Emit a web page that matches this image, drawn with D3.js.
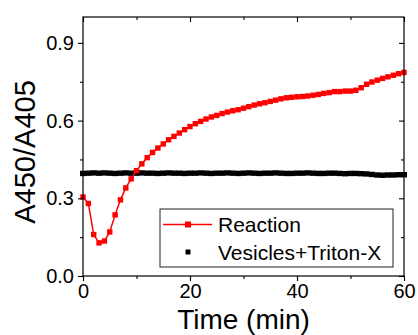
<!DOCTYPE html>
<html>
<head>
<meta charset="utf-8">
<script src="https://cdn.jsdelivr.net/npm/d3@7"></script>
<style>
  body { margin: 0; background: #fff; }
  svg { display: block; font-family: "Liberation Sans", Arial, sans-serif; }
</style>
</head>
<body>
<div id="chart"></div>
<script>
// Time in minutes (1 min steps)
const times = d3.range(0, 61);

// A450/A405 for the reaction
const reaction = [
  0.305, 0.28, 0.16, 0.128, 0.135, 0.17, 0.236, 0.294, 0.34, 0.375,
  0.407, 0.433, 0.457, 0.477, 0.494, 0.51, 0.526, 0.539, 0.552, 0.565,
  0.577, 0.588, 0.597, 0.606, 0.614, 0.62, 0.627, 0.633, 0.638, 0.642,
  0.648, 0.654, 0.66, 0.665, 0.669, 0.674, 0.679, 0.684, 0.688, 0.69,
  0.692, 0.693, 0.695, 0.698, 0.701, 0.705, 0.708, 0.712, 0.712, 0.714,
  0.714, 0.717, 0.727, 0.74, 0.749, 0.756, 0.763, 0.769, 0.775, 0.781,
  0.786
];

// A450/A405 for the vesicles + Triton-X control
const control = [
  0.396, 0.397, 0.398, 0.397, 0.398, 0.397, 0.396, 0.397, 0.398, 0.397,
  0.397, 0.398, 0.397, 0.397, 0.396, 0.397, 0.398, 0.397, 0.397, 0.396,
  0.397, 0.397, 0.398, 0.397, 0.396, 0.397, 0.397, 0.398, 0.397, 0.396,
  0.397, 0.398, 0.397, 0.396, 0.397, 0.397, 0.398, 0.397, 0.396, 0.396,
  0.397, 0.397, 0.398, 0.397, 0.396, 0.396, 0.397, 0.397, 0.396, 0.395,
  0.396, 0.396, 0.395, 0.394, 0.392, 0.390, 0.389, 0.390, 0.390, 0.391,
  0.391
];

const seriesNames = ["Reaction", "Vesicles+Triton-X"];
const xTicks = [0, 20, 40, 60];
const xMinor = [10, 30, 50];
const yTicks = [0, 0.3, 0.6, 0.9];
const yMinor = [0.15, 0.45, 0.75];

const chart = (() => {
  const width = 418, height = 335;
  const margin = { top: 17, right: 14, bottom: 59, left: 83 };
  const iw = width - margin.left - margin.right;
  const ih = height - margin.top - margin.bottom;

  const x = d3.scaleLinear().domain([0, 60]).range([0, iw]);
  const y = d3.scaleLinear().domain([0, 1.0]).range([ih, 0]);

  const svg = d3.select("#chart").append("svg")
    .attr("width", width)
    .attr("height", height);

  const g = svg.append("g")
    .attr("transform", `translate(${margin.left},${margin.top})`);

  // control: dense black squares forming a thick band
  g.append("g").selectAll("rect")
    .data(times)
    .join("rect")
    .attr("x", i => x(i) - 3)
    .attr("y", i => y(control[i]) - 2.7)
    .attr("width", 6)
    .attr("height", 5.4)
    .attr("fill", "#000");

  // reaction line + markers
  const line = d3.line()
    .x(i => x(i))
    .y(i => y(reaction[i]));

  g.append("path")
    .datum(times)
    .attr("fill", "none")
    .attr("stroke", "#ff0000")
    .attr("stroke-width", 1.5)
    .attr("d", line);

  g.append("g").selectAll("rect")
    .data(times)
    .join("rect")
    .attr("x", i => x(i) - 2.7)
    .attr("y", i => y(reaction[i]) - 2.7)
    .attr("width", 5.4)
    .attr("height", 5.4)
    .attr("fill", "#ff0000");

  // axes
  const axisStyle = sel => {
    sel.select(".domain").remove();
    sel.selectAll("line").attr("stroke", "#000").attr("stroke-width", 1.1);
    sel.selectAll("text").attr("fill", "#000").attr("font-size", 20)
      .attr("font-family", "Liberation Sans, Arial, sans-serif");
  };

  g.append("g")
    .attr("transform", `translate(0,${ih})`)
    .call(d3.axisBottom(x).tickValues(xTicks).tickSize(5).tickPadding(3).tickFormat(d3.format("d")))
    .call(axisStyle);
  g.append("g")
    .attr("transform", `translate(0,${ih})`)
    .call(d3.axisBottom(x).tickValues(xMinor).tickSize(3).tickFormat(""))
    .call(axisStyle);

  g.append("g")
    .call(d3.axisLeft(y).tickValues(yTicks).tickSize(5).tickPadding(4).tickFormat(d3.format(".1f")))
    .call(axisStyle);
  g.append("g")
    .call(d3.axisLeft(y).tickValues(yMinor).tickSize(3).tickFormat(""))
    .call(axisStyle);

  // mirrored ticks pointing inward
  g.append("g")
    .call(d3.axisTop(x).tickValues(xTicks).tickSize(-5).tickFormat(""))
    .call(axisStyle);
  g.append("g")
    .call(d3.axisTop(x).tickValues(xMinor).tickSize(-3).tickFormat(""))
    .call(axisStyle);
  g.append("g")
    .attr("transform", `translate(${iw},0)`)
    .call(d3.axisRight(y).tickValues(yTicks).tickSize(-5).tickFormat(""))
    .call(axisStyle);
  g.append("g")
    .attr("transform", `translate(${iw},0)`)
    .call(d3.axisRight(y).tickValues(yMinor).tickSize(-3).tickFormat(""))
    .call(axisStyle);

  // frame
  g.append("rect")
    .attr("width", iw)
    .attr("height", ih)
    .attr("fill", "none")
    .attr("stroke", "#000")
    .attr("stroke-width", 1.2);

  // axis titles
  svg.append("text")
    .attr("x", margin.left + iw / 2)
    .attr("y", 329)
    .attr("text-anchor", "middle")
    .attr("font-size", 28)
    .text("Time (min)");

  svg.append("text")
    .attr("transform", `translate(35,${margin.top + 135}) rotate(-90)`)
    .attr("text-anchor", "middle")
    .attr("font-size", 29)
    .text("A450/A405");

  // legend
  const lg = svg.append("g").attr("transform", "translate(160,209)");
  lg.append("rect")
    .attr("width", 233)
    .attr("height", 58)
    .attr("fill", "#fff")
    .attr("stroke", "#222")
    .attr("stroke-width", 1);

  lg.append("line")
    .attr("x1", 3).attr("x2", 52)
    .attr("y1", 15.5).attr("y2", 15.5)
    .attr("stroke", "#ff0000").attr("stroke-width", 1.5);
  lg.append("rect")
    .attr("x", 25).attr("y", 12.5).attr("width", 6).attr("height", 6)
    .attr("fill", "#ff0000");
  lg.append("rect")
    .attr("x", 25.5).attr("y", 40.5).attr("width", 5).attr("height", 5)
    .attr("fill", "#000");

  lg.selectAll("text.lab")
    .data(seriesNames)
    .join("text")
    .attr("class", "lab")
    .attr("x", 58)
    .attr("y", (d, i) => 23 + i * 28)
    .attr("font-size", 21)
    .text(d => d);

  return svg.node();
})();
</script>
</body>
</html>
